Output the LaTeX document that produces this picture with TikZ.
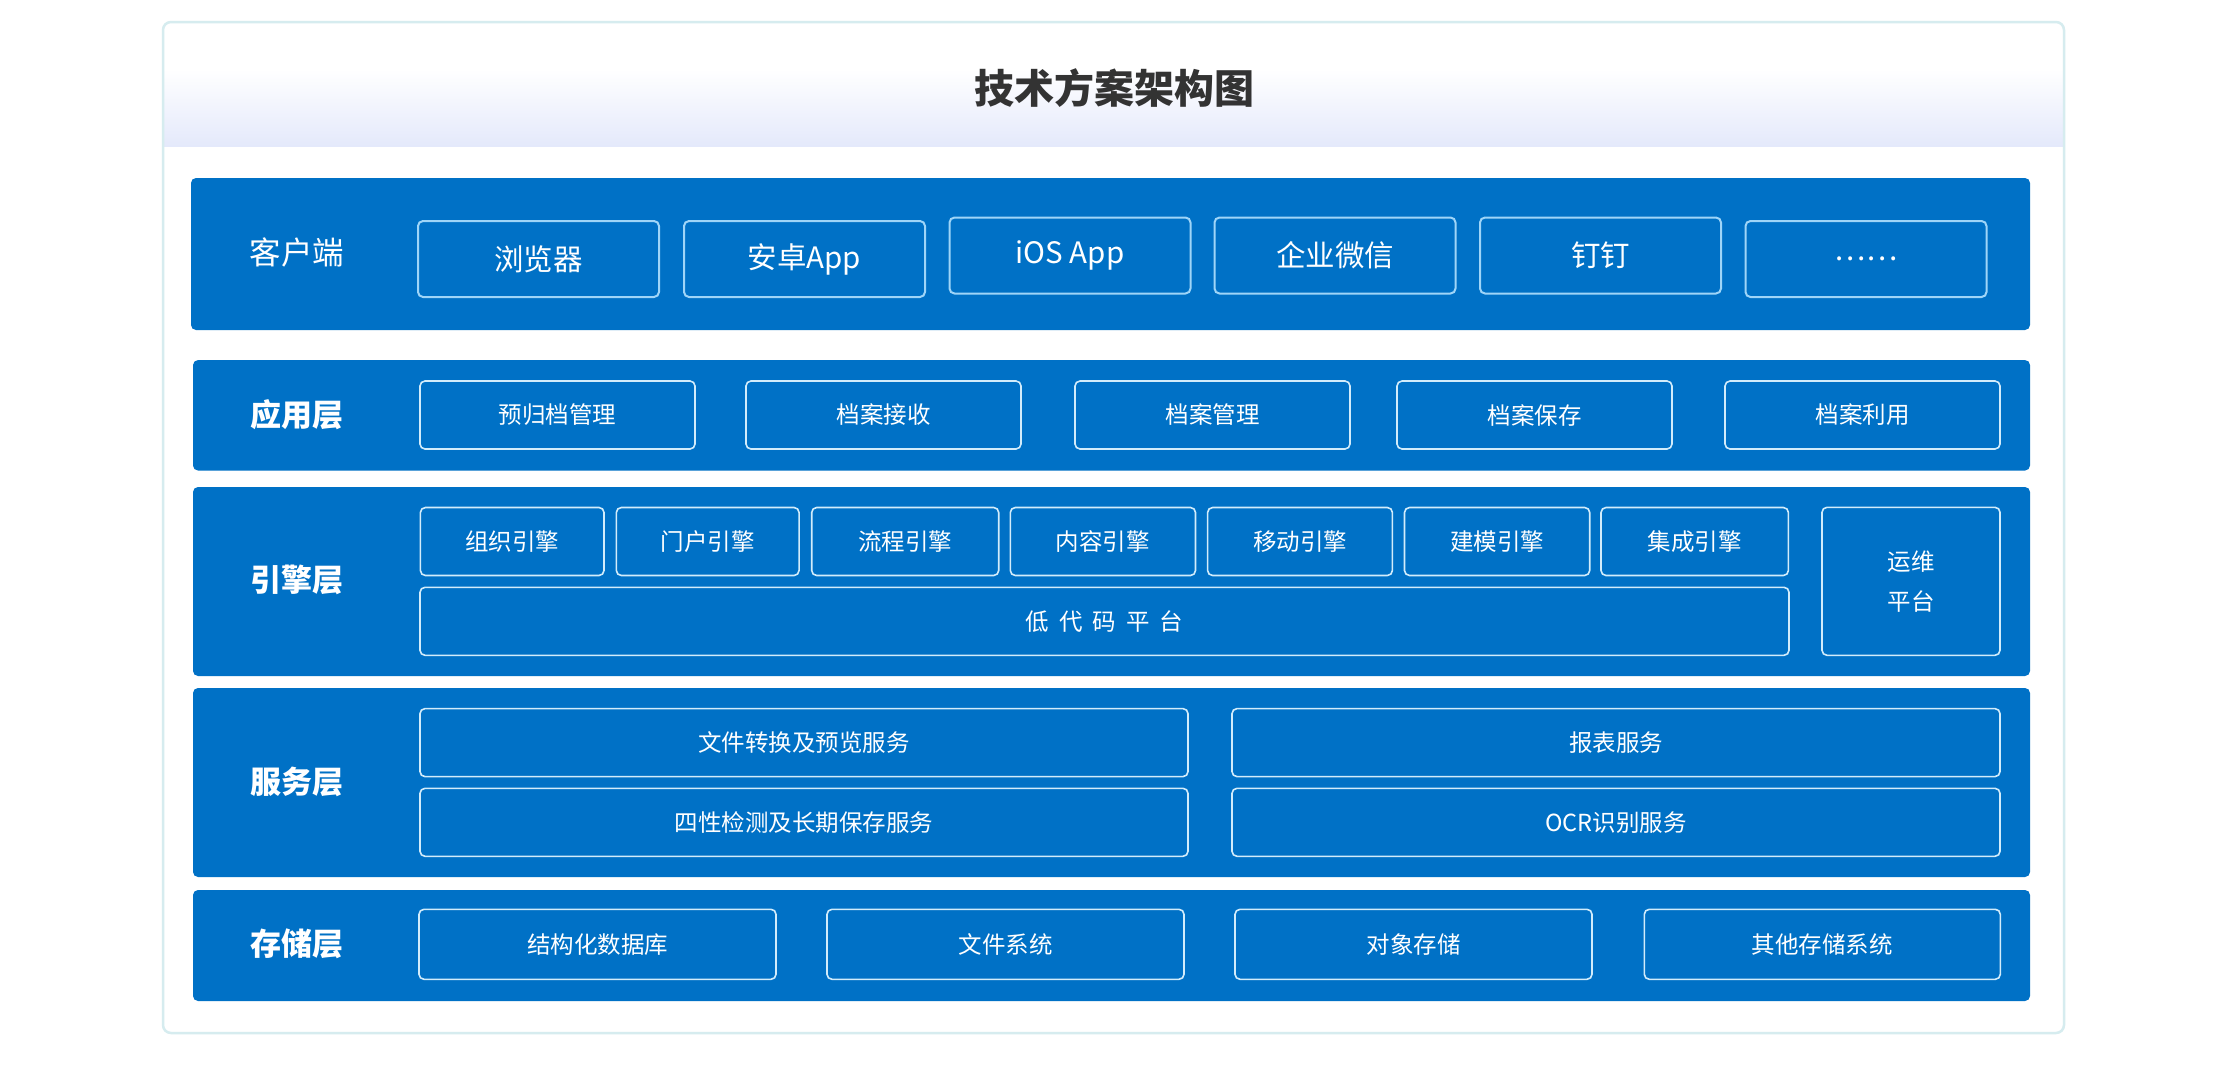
\documentclass[tikz,border=0pt]{standalone}
\usepackage{fontspec}
\setmainfont{Noto Sans CJK SC}
\definecolor{layerblue}{HTML}{0071C6}
\definecolor{boxedgeA}{HTML}{9FD5F8}
\definecolor{boxedgeB}{HTML}{D2ECFB}
\definecolor{framec}{HTML}{D6ECEF}
\definecolor{bandc}{HTML}{E4E9FB}
\definecolor{titlec}{HTML}{333333}
\tikzset{
  layer/.style={fill=layerblue, draw=none, rounded corners=5pt, inner sep=0pt},
  layerlabel/.style={text=white, inner sep=0pt, font=\fontsize{31}{36}\selectfont\bfseries},
  clientbox/.style={draw=boxedgeA, line width=2pt, fill=layerblue, rounded corners=5pt, inner sep=0pt,
    text=white, font=\fontsize{29.5}{34}\selectfont, minimum width=241pt, minimum height=76pt},
  itembox/.style={draw=boxedgeB, line width=1.6pt, fill=layerblue, rounded corners=5pt, inner sep=0pt,
    text=white, font=\fontsize{23.5}{28}\selectfont, minimum height=68pt}
}
\begin{document}
\begin{tikzpicture}[x=1pt,y=-1pt]
\useasboundingbox (0,0) rectangle (2220,1069);
\fill[white] (0,0) rectangle (2220,1069);
% frame and title band
\fill[white, rounded corners=8pt] (163,22) rectangle (2064,1033);
\begin{scope}
  \clip[rounded corners=8pt] (163,22) rectangle (2064,1033);
  \fill[white] (163,22) rectangle (2064,70);
  \shade[top color=white, bottom color=bandc] (163,69) rectangle (2064,146);
\end{scope}
\draw[framec, line width=2.5pt, rounded corners=8pt] (163,22) rectangle (2064,1033);
\node[font=\fontsize{40}{48}\selectfont\bfseries, text=titlec, inner sep=0pt] (title) at (1114,88) {技术方案架构图};

% layers
\node[layer, minimum width=1839pt, minimum height=152pt] (L1) at (1110.5,254) {};
\node[layer, minimum width=1837pt, minimum height=110.5pt] (L2) at (1111.5,415.3) {};
\node[layer, minimum width=1837pt, minimum height=189pt] (L3) at (1111.5,581.5) {};
\node[layer, minimum width=1837pt, minimum height=189pt] (L4) at (1111.5,782.5) {};
\node[layer, minimum width=1837pt, minimum height=111pt] (L5) at (1111.5,945.5) {};

% layer labels
\node[layerlabel, font=\fontsize{31.5}{36}\selectfont] (lab1) at (297,252) {客户端};
\node[layerlabel] (lab2) at (297,415) {应用层};
\node[layerlabel] (lab3) at (297,580) {引擎层};
\node[layerlabel] (lab4) at (297,782) {服务层};
\node[layerlabel] (lab5) at (297,944) {存储层};

% client layer
\node[clientbox] (c1) at (538.5,259) {浏览器};
\node[clientbox] (c2) at (804.5,259) {安卓App};
\node[clientbox] (c3) at (1070,255.5) {iOS App};
\node[clientbox] (c4) at (1335,255.5) {企业微信};
\node[clientbox] (c5) at (1600.5,255.5) {钉钉};
\node[clientbox] (c6) at (1866,259) {……};

% application layer
\node[itembox, minimum width=275pt] (a1) at (557.5,415) {预归档管理};
\node[itembox, minimum width=275pt] (a2) at (883.5,415) {档案接收};
\node[itembox, minimum width=275pt] (a3) at (1212.5,415) {档案管理};
\node[itembox, minimum width=275pt] (a4) at (1534.5,415) {档案保存};
\node[itembox, minimum width=275pt] (a5) at (1862.5,415) {档案利用};

% engine layer
\node[itembox, minimum width=183.6pt] (e1) at (512.2,541.5) {组织引擎};
\node[itembox, minimum width=182.7pt] (e2) at (707.7,541.5) {门户引擎};
\node[itembox, minimum width=187pt] (e3) at (905.2,541.5) {流程引擎};
\node[itembox, minimum width=185.2pt] (e4) at (1102.9,541.5) {内容引擎};
\node[itembox, minimum width=184.8pt] (e5) at (1300,541.5) {移动引擎};
\node[itembox, minimum width=185.2pt] (e6) at (1497.1,541.5) {建模引擎};
\node[itembox, minimum width=187.4pt] (e7) at (1694.7,541.5) {集成引擎};
\node[itembox, minimum width=1369pt] (lowcode) at (1104.5,621.3) {低\hspace{10pt}代\hspace{10pt}码\hspace{10pt}平\hspace{10pt}台};
\node[itembox, minimum width=178pt, minimum height=148pt, align=center,
      font=\fontsize{23.5}{40}\selectfont] (ops) at (1911,581.3) {运维\\平台};

% service layer
\node[itembox, minimum width=768pt] (s1) at (804,742.6) {文件转换及预览服务};
\node[itembox, minimum width=768pt] (s2) at (1616,742.6) {报表服务};
\node[itembox, minimum width=768pt] (s3) at (804,822.3) {四性检测及长期保存服务};
\node[itembox, minimum width=768pt] (s4) at (1616,822.3) {OCR识别服务};

% storage layer
\node[itembox, minimum width=357pt, minimum height=70pt] (d1) at (597.5,944.3) {结构化数据库};
\node[itembox, minimum width=357pt, minimum height=70pt] (d2) at (1005.5,944.3) {文件系统};
\node[itembox, minimum width=357pt, minimum height=70pt] (d3) at (1413.5,944.3) {对象存储};
\node[itembox, minimum width=356pt, minimum height=70pt] (d4) at (1822.3,944.3) {其他存储系统};
\end{tikzpicture}
\end{document}
